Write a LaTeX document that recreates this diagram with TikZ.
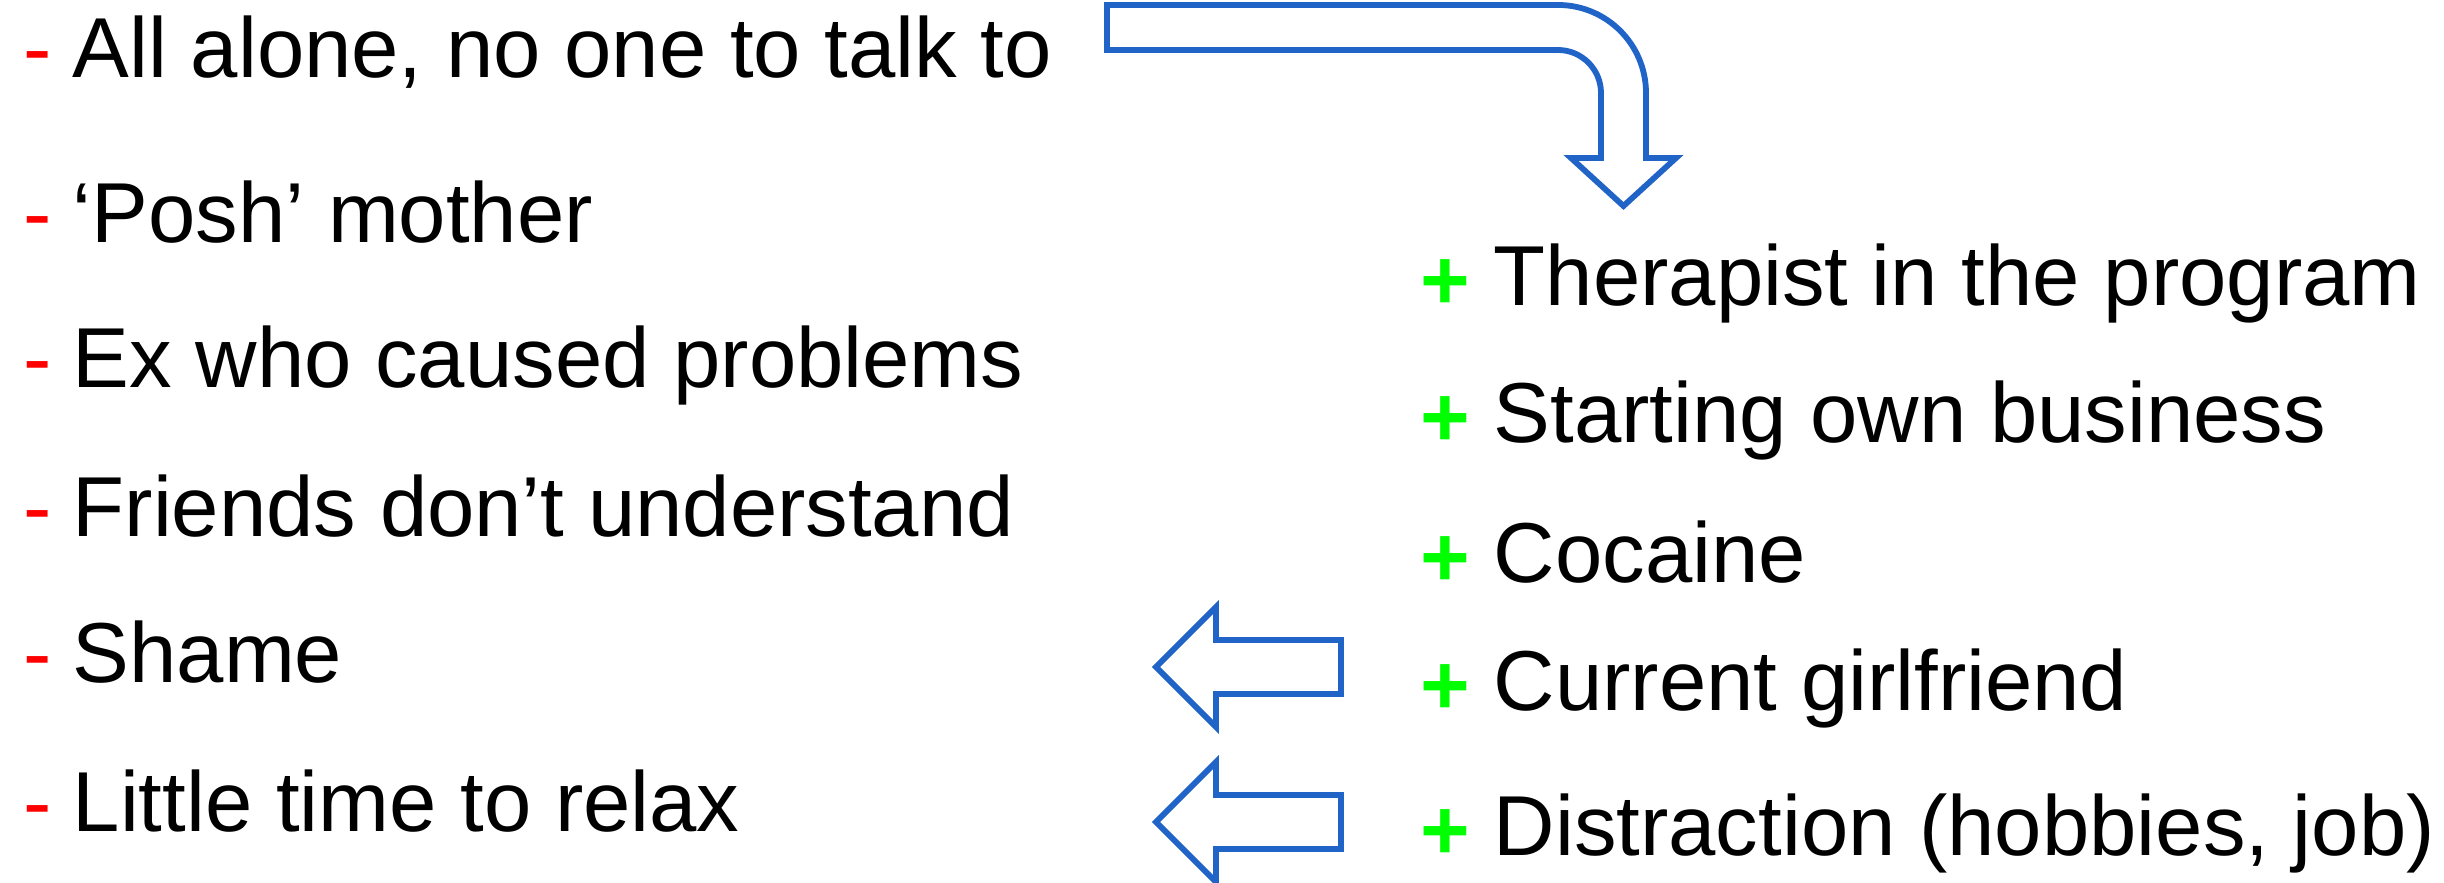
\documentclass[tikz,border=0pt]{standalone}
\usepackage{fontspec}
\setmainfont{Liberation Sans}
\definecolor{arrowblue}{RGB}{32,100,200}
\definecolor{minusred}{RGB}{255,0,0}
\definecolor{plusgreen}{RGB}{0,255,0}
\begin{document}
\begin{tikzpicture}[x=0.01cm,y=-0.01cm,
  txt/.style={anchor=base west, inner sep=0pt, font=\fontsize{24.2pt}{29pt}\selectfont},
  negmark/.style={txt, text=minusred},
  plusmark/.style={txt, text=plusgreen, font=\fontsize{24.2pt}{29pt}\selectfont\bfseries},
  outline/.style={draw=arrowblue, line width=0.058cm, line join=miter, fill=white}]
\useasboundingbox (0,0) rectangle (2444,883);

% left column
\node[negmark] (m1) at (23,78)  {-};
\node[txt] (t1) at (72,78)  {All alone, no one to talk to};
\node[negmark] (m2) at (23,243) {-};
\node[txt] (t2) at (72,243) {‘Posh’ mother};
\node[negmark] (m3) at (23,388) {-};
\node[txt] (t3) at (72,388) {Ex who caused problems};
\node[negmark] (m4) at (23,537) {-};
\node[txt] (t4) at (72,537) {Friends don’t understand};
\node[negmark] (m5) at (23,683) {-};
\node[txt] (t5) at (72,683) {Shame};
\node[negmark] (m6) at (23,832) {-};
\node[txt] (t6) at (72,832) {Little time to relax};

% right column
\node[plusmark] (p1) at (1420,310) {+};
\node[txt] (r1) at (1493,306) {Therapist in the program};
\node[plusmark] (p2) at (1420,447) {+};
\node[txt] (r2) at (1493,443) {Starting own business};
\node[plusmark] (p3) at (1420,587) {+};
\node[txt] (r3) at (1493,583) {Cocaine};
\node[plusmark] (p4) at (1420,715) {+};
\node[txt] (r4) at (1493,711) {Current girlfriend};
\node[plusmark] (p5) at (1420,860) {+};
\node[txt] (r5) at (1493,856) {Distraction (hobbies, job)};

% bent arrow
\draw[outline] (1107,5) -- (1558,5)
  .. controls (1606.6,5) and (1646,44.4) .. (1646,93)
  -- (1646,158) -- (1676,158) -- (1623.5,206) -- (1571,158) -- (1601,158)
  -- (1601,93) .. controls (1601,69.3) and (1581.7,50) .. (1558,50)
  -- (1107,50) -- cycle;

% left arrows
\draw[outline] (1156,667) -- (1216,607) -- (1216,640) -- (1341,640)
  -- (1341,694) -- (1216,694) -- (1216,727) -- cycle;
\draw[outline] (1156,822) -- (1216,762) -- (1216,795) -- (1341,795)
  -- (1341,849) -- (1216,849) -- (1216,882) -- cycle;
\end{tikzpicture}
\end{document}
